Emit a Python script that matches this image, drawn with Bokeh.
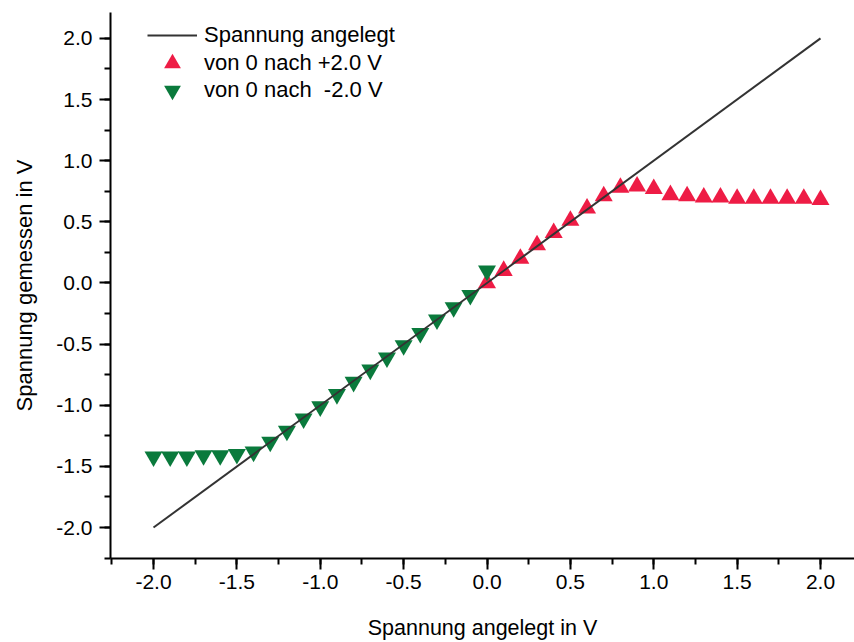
import math
from bokeh.plotting import figure
from bokeh.models import (Range1d, SingleIntervalTicker, NumeralTickFormatter,
                          Legend, LegendItem)
from bokeh.embed import file_html
from bokeh.resources import INLINE

# ---- data ----
applied_line = [-2.0, 2.0]
measured_line = [-2.0, 2.0]

pos_x = [0.0, 0.1, 0.2, 0.3, 0.4, 0.5, 0.6, 0.7, 0.8, 0.9, 1.0,
         1.1, 1.2, 1.3, 1.4, 1.5, 1.6, 1.7, 1.8, 1.9, 2.0]
pos_y = [0.00, 0.10, 0.20, 0.31, 0.41, 0.51, 0.61, 0.71, 0.78, 0.79, 0.77,
         0.72, 0.71, 0.70, 0.70, 0.69, 0.69, 0.69, 0.69, 0.69, 0.68]

neg_x = [0.0, -0.1, -0.2, -0.3, -0.4, -0.5, -0.6, -0.7, -0.8, -0.9, -1.0,
         -1.1, -1.2, -1.3, -1.4, -1.5, -1.6, -1.7, -1.8, -1.9, -2.0]
neg_y = [0.10, -0.10, -0.20, -0.30, -0.41, -0.51, -0.61, -0.71, -0.81, -0.91, -1.01,
         -1.11, -1.21, -1.30, -1.38, -1.40, -1.41, -1.41, -1.42, -1.42, -1.42]

labels = ["Spannung angelegt", "von 0 nach +2.0 V", "von 0 nach  -2.0 V"]
x_title = "Spannung angelegt in V"
y_title = "Spannung gemessen in V"

FONT = "Liberation Sans"
RED = "#EE1C45"
GREEN = "#0A7A3C"
LINE = "#333333"

X0, X1 = -2.258, 2.204
Y0, Y1 = -2.253, 2.212
W, H = 854, 642
BL, BR, BT, BB = 110, 0, 12, 83

p = figure(width=W, height=H, output_backend="svg", toolbar_location=None,
           x_range=Range1d(X0, X1), y_range=Range1d(Y0, Y1),
           min_border_left=BL, min_border_right=BR, min_border_top=BT,
           min_border_bottom=BB)
p.outline_line_color = None
p.xgrid.visible = False
p.ygrid.visible = False
p.background_fill_color = "white"
p.border_fill_color = "white"

r_pos = p.scatter(pos_x, pos_y, marker="triangle", size=18,
                  fill_color=RED, line_color=None)
r_neg = p.scatter(neg_x, neg_y, marker="inverted_triangle", size=18,
                  fill_color=GREEN, line_color=None)
r_line = p.line(applied_line, measured_line, line_color=LINE, line_width=2)

for ax in (p.xaxis[0], p.yaxis[0]):
    ax.ticker = SingleIntervalTicker(interval=0.5, num_minor_ticks=2)
    ax.formatter = NumeralTickFormatter(format="0.0")
    ax.axis_line_width = 2
    ax.axis_line_color = "black"
    ax.major_tick_line_width = 2
    ax.minor_tick_line_width = 2
    ax.major_tick_line_color = "black"
    ax.minor_tick_line_color = "black"
    ax.major_tick_in = 0
    ax.minor_tick_in = 0
    ax.major_tick_out = 11
    ax.minor_tick_out = 6
    ax.major_label_text_font = FONT
    ax.major_label_text_font_size = "21px"
    ax.major_label_text_color = "black"
    ax.axis_label_text_font = FONT
    ax.axis_label_text_font_style = "normal"
    ax.axis_label_text_color = "black"

p.xaxis[0].major_label_standoff = 5
p.yaxis[0].major_label_standoff = 7
p.xaxis[0].axis_label = x_title
p.xaxis[0].axis_label_text_font_size = "21.5px"
p.xaxis[0].axis_label_standoff = 24
p.yaxis[0].axis_label = y_title
p.yaxis[0].axis_label_text_font_size = "22px"
p.yaxis[0].axis_label_standoff = 16

# one single-item legend per row so markers can keep their size
renderers = [r_line, r_pos, r_neg]
row_centers = [36, 64, 91]
glyph_heights = [26, 42, 42]
frame_bottom = H - BB
for lab, rend, cy, gh in zip(labels, renderers, row_centers, glyph_heights):
    lg = Legend(items=[LegendItem(label=lab, renderers=[rend])],
                location=(37, frame_bottom - (cy + gh / 2)),
                padding=0, margin=0,
                glyph_width=50, glyph_height=gh, label_height=gh,
                spacing=0, label_standoff=7,
                label_text_font=FONT, label_text_font_size="22px",
                label_text_color="black", label_text_baseline="middle",
                border_line_alpha=0, background_fill_alpha=0)
    p.add_layout(lg)

open("out.html", "w").write(file_html(p, INLINE))
